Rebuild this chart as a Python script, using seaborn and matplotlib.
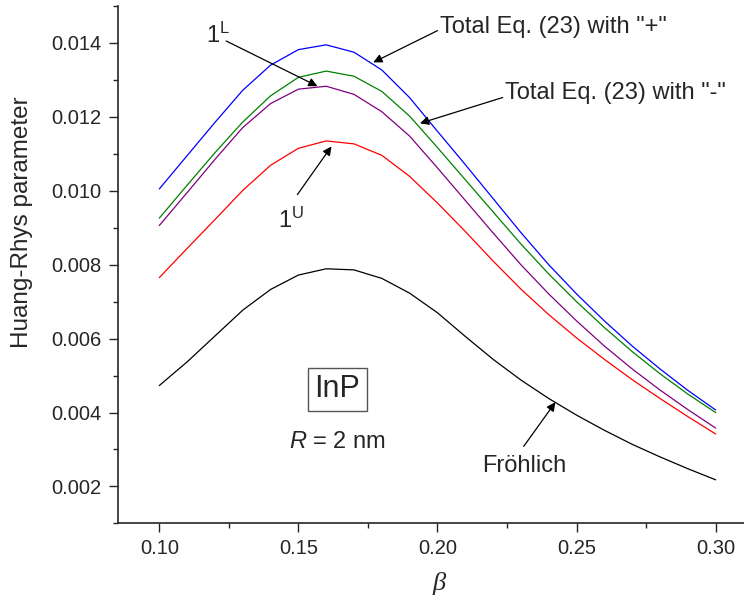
import matplotlib
matplotlib.use("Agg")
import numpy as np
import pandas as pd
import seaborn as sns
import matplotlib.pyplot as plt
from matplotlib.ticker import MultipleLocator, FormatStrFormatter

# beta values (x axis)
beta = [0.10, 0.11, 0.12, 0.13, 0.14, 0.15, 0.16, 0.17, 0.18, 0.19, 0.20,
        0.21, 0.22, 0.23, 0.24, 0.25, 0.26, 0.27, 0.28, 0.29, 0.30]

# Huang-Rhys parameter curves
total_plus = [0.01005, 0.01095, 0.01185, 0.01272, 0.01340, 0.01382, 0.01395,
              0.01375, 0.01327, 0.01252, 0.01161, 0.01071, 0.00979, 0.00887,
              0.00800, 0.00721, 0.00648, 0.00580, 0.00518, 0.00460, 0.00407]
total_minus = [0.00926, 0.01015, 0.01103, 0.01186, 0.01257, 0.01307, 0.01324,
               0.01310, 0.01269, 0.01202, 0.01117, 0.01030, 0.00943, 0.00856,
               0.00775, 0.00700, 0.00630, 0.00565, 0.00505, 0.00450, 0.00400]
mode_1L = [0.00906, 0.00995, 0.01085, 0.01171, 0.01236, 0.01275, 0.01283,
           0.01261, 0.01214, 0.01148, 0.01062, 0.00974, 0.00886, 0.00800,
           0.00721, 0.00648, 0.00580, 0.00518, 0.00461, 0.00408, 0.00358]
mode_1U = [0.00765, 0.00844, 0.00922, 0.01001, 0.01069, 0.01115, 0.01135,
           0.01127, 0.01096, 0.01039, 0.00967, 0.00890, 0.00810, 0.00734,
           0.00665, 0.00602, 0.00544, 0.00489, 0.00438, 0.00389, 0.00342]
frohlich = [0.00473, 0.00537, 0.00607, 0.00677, 0.00733, 0.00772, 0.00789,
            0.00786, 0.00763, 0.00723, 0.00670, 0.00606, 0.00544, 0.00488,
            0.00438, 0.00393, 0.00352, 0.00314, 0.00280, 0.00248, 0.00218]

curves = {"plus": total_plus, "minus": total_minus, "1L": mode_1L,
          "1U": mode_1U, "frohlich": frohlich}
colors = {"plus": "#0000ff", "minus": "#008000", "1L": "#800080",
          "1U": "#ff0000", "frohlich": "#000000"}

df = pd.DataFrame({
    "beta": beta * len(curves),
    "S": sum(curves.values(), []),
    "curve": [k for k in curves for _ in beta],
})

sns.set_style("ticks")
plt.rcParams["font.family"] = ["Liberation Sans", "DejaVu Sans"]
plt.rcParams["mathtext.fontset"] = "custom"
plt.rcParams["mathtext.rm"] = "Liberation Sans"
plt.rcParams["mathtext.it"] = "Liberation Sans:italic"
plt.rcParams["mathtext.default"] = "regular"

fig = plt.figure(figsize=(7.44, 6.03), dpi=100)
ax = fig.add_axes([0.158, 0.132, 0.845, 0.858])

sns.lineplot(data=df, x="beta", y="S", hue="curve", palette=colors,
             estimator=None, legend=False, lw=0.9, ax=ax)

ax.set_xlim(0.085, 0.311)
ax.set_ylim(0.001, 0.015)
ax.xaxis.set_major_locator(MultipleLocator(0.05))
ax.xaxis.set_minor_locator(MultipleLocator(0.025))
ax.yaxis.set_major_locator(MultipleLocator(0.002))
ax.yaxis.set_minor_locator(MultipleLocator(0.001))
ax.xaxis.set_major_formatter(FormatStrFormatter("%.2f"))
ax.yaxis.set_major_formatter(FormatStrFormatter("%.3f"))
ax.tick_params(which="major", length=6.5, width=1.0, labelsize=14.5, pad=5)
ax.tick_params(which="minor", length=3.5, width=1.0)
ax.spines[["top", "right"]].set_visible(False)
for s in ["left", "bottom"]:
    ax.spines[s].set_linewidth(1.2)

ax.set_ylabel("Huang-Rhys parameter", fontsize=17.5)
ax.yaxis.set_label_coords(-0.135, 0.583)
ax.set_xlabel("β", fontsize=19, family="Liberation Serif", style="italic")
ax.xaxis.set_label_coords(0.511, -0.093)


def px(x, y):
    # pixel position in the picture -> data coordinates
    return (0.10 + (x - 159.3) / 2774, 0.014 - (y - 44) / 36800)


arrow = dict(arrowstyle="-|>", color="k", lw=0.9, mutation_scale=13,
             shrinkA=0, shrinkB=0)

ax.annotate("", xy=px(372.7, 63.3), xytext=px(436.7, 31.7), arrowprops=arrow)
ax.text(*px(439, 28), 'Total Eq. (23) with "+"', fontsize=17, va="center", ha="left")

ax.annotate("", xy=px(419.3, 124), xytext=px(501.7, 98.3), arrowprops=arrow)
ax.text(*px(504, 94), 'Total Eq. (23) with "-"', fontsize=17, va="center", ha="left")

ax.annotate("", xy=px(317, 87), xytext=px(226, 42), arrowprops=arrow)
ax.text(*px(206, 44), r"1$^{L}$", fontsize=17, va="baseline", ha="left")

ax.annotate("", xy=px(331, 147), xytext=px(297, 195), arrowprops=arrow)
ax.text(*px(278, 228), r"1$^{U}$", fontsize=17, va="baseline", ha="left")

ax.annotate("", xy=px(554.3, 401.7), xytext=px(522.7, 445.7), arrowprops=arrow)
ax.text(*px(481, 465), "Fröhlich", fontsize=17, va="center", ha="left")

ax.text(*px(337, 389), "InP", fontsize=22, va="center", ha="center",
        bbox=dict(boxstyle="square,pad=0.22", fc="white", ec="#555555", lw=1.0))
ax.text(*px(337, 441), r"$\mathit{R}$ = 2 nm", fontsize=17, va="center", ha="center")

fig.savefig("out.png", dpi=100)
